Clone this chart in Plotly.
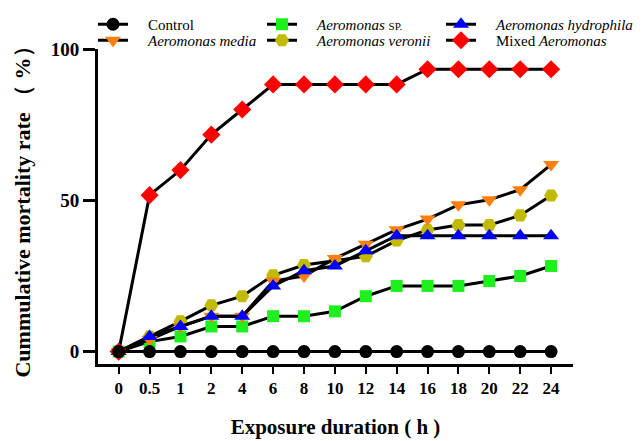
import plotly.graph_objects as go

hours = ["0", "0.5", "1", "2", "4", "6", "8", "10", "12", "14", "16", "18", "20", "22", "24"]

control = [0, 0, 0, 0, 0, 0, 0, 0, 0, 0, 0, 0, 0, 0, 0]
aero_sp = [0, 3.3, 5, 8.3, 8.3, 11.7, 11.7, 13.3, 18.3, 21.7, 21.7, 21.7, 23.3, 25, 28.3]
aero_hydrophila = [0, 5, 8.3, 11.7, 11.7, 21.7, 26.7, 28.3, 33.3, 38.3, 38.3, 38.3, 38.3, 38.3, 38.3]
aero_media = [0, 4, 8.3, 11.7, 11.7, 23.3, 25, 30.8, 35.5, 40.3, 43.8, 48.5, 50.2, 53.5, 61.8]
aero_veronii = [0, 5, 10, 15.3, 18.3, 25.2, 28.6, 30, 31.5, 36.7, 40.2, 41.8, 41.8, 45, 51.6]
mixed = [0, 51.7, 60, 71.7, 80, 88.3, 88.3, 88.3, 88.3, 88.3, 93.3, 93.3, 93.3, 93.3, 93.3]

SERIF = "Liberation Serif, Times New Roman, DejaVu Serif, serif"
PAD = "&nbsp;" * 4

series = [
    # name, values, color, symbol, size, legend id
    ("<i>Aeromonas</i> <span style='font-size:11px'>SP.</span>", aero_sp, "#1EF01E", "square", 12, "legend3"),
    ("<i>Aeromonas veronii</i>", aero_veronii, "#C2BA00", "hexagon2", 14, "legend4"),
    ("<i>Aeromonas media</i>", aero_media, "#FF7F0E", "triangle-down", 14, "legend2"),
    ("<i>Aeromonas hydrophila</i>", aero_hydrophila, "#0000FF", "triangle-up", 14, "legend5"),
    ("Mixed <i>Aeromonas</i>", mixed, "#FF0000", "diamond", 14, "legend6"),
    ("Control", control, "#000000", "circle", 13, "legend"),
]

fig = go.Figure()
for name, vals, color, sym, size, leg in series:
    fig.add_trace(go.Scatter(
        x=hours, y=vals, name=PAD + name, mode="lines+markers",
        line=dict(color="black", width=3),
        marker=dict(color=color, symbol=sym, size=size, line=dict(width=0)),
        legend=leg,
    ))

# layout geometry (figure pixels; the page adds an 8px body offset)
W, H = 634, 433
ML, MR, MT, MB = 90, 69, 0, 77
PLOT_TOP = 41
paper_h = H - MT - MB
paper_w = W - ML - MR
ytop = (paper_h - PLOT_TOP) / paper_h

def lx(px):
    return (px - ML) / paper_w

def ly(py):
    return 1 - py / paper_h

legfont = dict(family=SERIF, size=15, color="black")
common = dict(font=legfont, bgcolor="rgba(0,0,0,0)", xanchor="left", yanchor="middle",
              orientation="v", tracegroupgap=0, itemwidth=30)

cols = [85, 254, 433]
rows = [16.5, 32.5]

fig.update_layout(
    width=W, height=H,
    margin=dict(l=ML, r=MR, t=MT, b=MB),
    plot_bgcolor="white", paper_bgcolor="white",
    showlegend=True,
    legend=dict(x=lx(cols[0]), y=ly(rows[0]), **common),
    legend2=dict(x=lx(cols[0]), y=ly(rows[1]), **common),
    legend3=dict(x=lx(cols[1]), y=ly(rows[0]), **common),
    legend4=dict(x=lx(cols[1]), y=ly(rows[1]), **common),
    legend5=dict(x=lx(cols[2]), y=ly(rows[0]), **common),
    legend6=dict(x=lx(cols[2]), y=ly(rows[1]), **common),
    xaxis=dict(
        type="category", range=[-0.67, 14.71], automargin=False,
        showline=True, linecolor="black", linewidth=3,
        ticks="outside", ticklen=7, tickwidth=2, tickcolor="black",
        showgrid=False, zeroline=False,
        tickfont=dict(family=SERIF, size=17, color="black", weight="bold"),
        title=dict(text="<b>Exposure duration ( h )</b>", standoff=22,
                   font=dict(family=SERIF, size=21, color="black")),
    ),
    yaxis=dict(
        range=[-4.1, 100], tickvals=[0, 50, 100], automargin=False,
        domain=[0, ytop],
        showline=True, linecolor="black", linewidth=3,
        ticks="outside", ticklen=12, tickwidth=3, tickcolor="black",
        showgrid=False, zeroline=False,
        tickfont=dict(family=SERIF, size=19, color="black", weight="bold"),
        title=dict(text="<b>Cummulative mortality rate （ %）</b>", standoff=15,
                   font=dict(family=SERIF, size=22, color="black")),
    ),
)

fig.write_html("out.html")
